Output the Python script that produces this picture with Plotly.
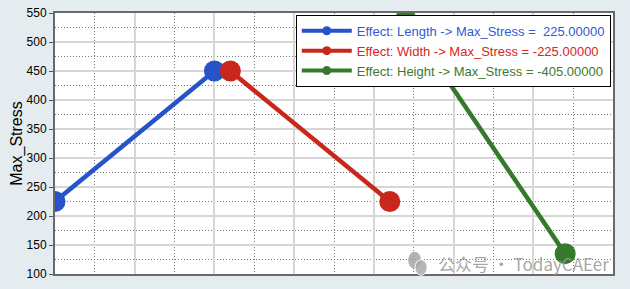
import plotly.graph_objects as go

# Main effects of each design variable on Max_Stress
factors = ["Length", "Width", "Height"]
level_x = [[0.0, 1.0], [1.1, 2.1], [2.2, 3.2]]
stress = [[225, 450], [450, 225], [540, 135]]
effects = [225.0, -225.0, -405.0]
colors = ["#2654c8", "#c9271c", "#347a2a"]
text_colors = ["#3558d6", "#d8251c", "#3d7a2c"]

y_ticks = [100, 150, 200, 250, 300, 350, 400, 450, 500, 550]

fig = go.Figure()

for name, xs, ys, eff, col, tcol in zip(factors, level_x, stress, effects, colors, text_colors):
    sign = "\u00a0" if eff >= 0 else "-"
    label = f"Effect: {name} -> Max_Stress =\u00a0{sign}{abs(eff):.5f}"
    fig.add_trace(go.Scatter(
        x=xs, y=ys, mode="lines+markers",
        line=dict(color=col, width=4.5),
        marker=dict(color=col, size=21),
        showlegend=False, hoverinfo="skip",
    ))
    # legend entry with a compact marker
    fig.add_trace(go.Scatter(
        x=[None], y=[None], mode="lines+markers",
        line=dict(color=col, width=4),
        marker=dict(color=col, size=9),
        name=f"<span style='color:{tcol}'>{label}</span>",
    ))

fig.update_layout(
    width=630, height=289,
    margin=dict(l=55, r=17, t=13, b=15),
    paper_bgcolor="#e5ecef",
    plot_bgcolor="white",
    font=dict(family="Liberation Sans, Arial, sans-serif", size=12, color="black"),
    showlegend=True,
    legend=dict(
        x=0.996, y=0.993, xanchor="right", yanchor="top",
        bgcolor="white", bordercolor="black", borderwidth=1,
        font=dict(size=13),
        itemwidth=50,
        tracegroupgap=0,
    ),
    xaxis=dict(
        range=[0, 3.5], showticklabels=False, ticks="",
        dtick=0.5, tick0=0, automargin=False,
        showgrid=True, gridcolor="#d6d6d6", gridwidth=2,
        minor=dict(dtick=0.25, tick0=0, showgrid=True, gridcolor="#7a7a7a",
                   gridwidth=1, griddash="1px,2px"),
        showline=True, linecolor="#6a6a6a", linewidth=1.5, mirror=True,
        zeroline=False, fixedrange=True,
    ),
    yaxis=dict(
        range=[100, 550], tickvals=y_ticks, automargin=False,
        ticks="outside", ticklen=4, tickcolor="#555555", tickwidth=1,
        showgrid=True, gridcolor="#d6d6d6", gridwidth=2,
        minor=dict(dtick=25, tick0=100, showgrid=True, gridcolor="#7a7a7a",
                   gridwidth=1, griddash="1px,2px"),
        showline=True, linecolor="#6a6a6a", linewidth=2, mirror=True,
        zeroline=False, fixedrange=True,
        tickfont=dict(size=12, color="black"),
        title=dict(text="Max_Stress", font=dict(size=16, color="black"), standoff=0),
    ),
)

# watermark
fig.add_annotation(
    xref="paper", yref="paper", x=0.997, y=0.04, xanchor="right", yanchor="middle",
    text="公众号 · TodayCAEer", showarrow=False,
    font=dict(family="Noto Sans CJK SC", size=17, color="rgba(150,150,150,0.85)"),
)
fig.add_shape(type="circle", xref="paper", yref="paper",
              x0=0.633, x1=0.656, y0=0.02, y1=0.085,
              fillcolor="rgba(160,160,160,0.8)", line=dict(width=0))
fig.add_shape(type="circle", xref="paper", yref="paper",
              x0=0.645, x1=0.667, y0=-0.005, y1=0.055,
              fillcolor="rgba(170,170,170,0.85)", line=dict(color="white", width=1))

fig.write_html("out.html")
